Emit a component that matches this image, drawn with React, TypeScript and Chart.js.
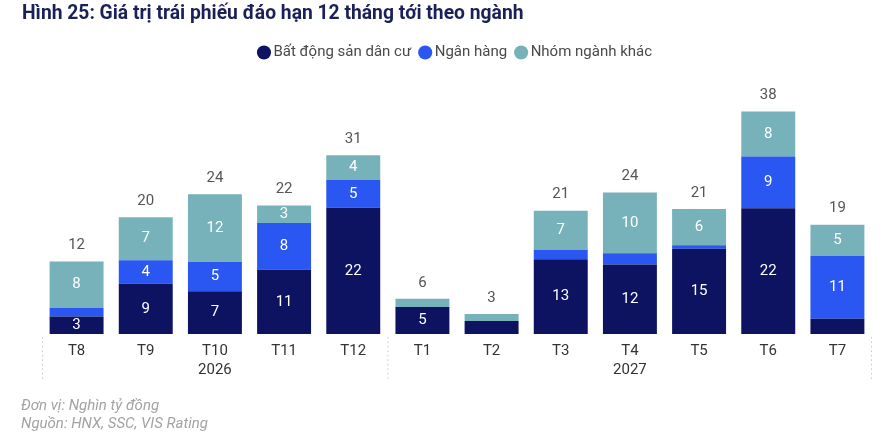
import React, { useEffect, useRef } from "react";
import { Chart, registerables } from "chart.js";

Chart.register(...registerables);

const months = ["T8", "T9", "T10", "T11", "T12", "T1", "T2", "T3", "T4", "T5", "T6", "T7"];
const years = ["", "", "2026", "", "", "", "", "", "2027", "", "", ""];
const residential = [3.0, 8.6, 7.3, 11.0, 21.6, 4.6, 2.2, 12.8, 11.9, 14.6, 21.5, 2.6];
const banks = [1.5, 4.0, 5.0, 8.0, 4.8, 0, 0, 1.6, 1.9, 0.6, 8.9, 10.8];
const others = [7.9, 7.4, 11.6, 3.0, 4.2, 1.4, 1.2, 6.7, 10.4, 6.2, 7.7, 5.3];
const seriesNames = ["Bất động sản dân cư", "Ngân hàng", "Nhóm ngành khác"];
const seriesColors = ["#0d1261", "#2a56f1", "#77b2ba"];
const yearBreakAfter = 4;

const FONT = "Roboto";

const valueLabels = {
  id: "valueLabels",
  afterDatasetsDraw(chart: any) {
    const ctx = chart.ctx;
    const area = chart.chartArea;
    ctx.save();
    ctx.font = `15px ${FONT}`;
    ctx.textAlign = "center";
    ctx.textBaseline = "middle";
    chart.data.datasets.forEach((ds: any, di: number) => {
      const meta = chart.getDatasetMeta(di);
      meta.data.forEach((el: any, i: number) => {
        const v = ds.data[i];
        if (v >= 2.8) {
          ctx.fillStyle = "#ffffff";
          ctx.fillText(String(Math.round(v)), el.x, (el.y + el.base) / 2);
        }
      });
    });
    const lastMeta = chart.getDatasetMeta(chart.data.datasets.length - 1);
    lastMeta.data.forEach((el: any, i: number) => {
      let total = 0;
      chart.data.datasets.forEach((ds: any) => (total += ds.data[i]));
      ctx.fillStyle = "#555555";
      ctx.fillText(String(Math.round(total)), el.x, el.y - 16);
    });
    // dotted separators
    const xs = chart.scales.x;
    const mid = (xs.getPixelForTick(yearBreakAfter) + xs.getPixelForTick(yearBreakAfter + 1)) / 2;
    const xsPos = [area.left + 0.5, mid, area.right - 0.5];
    ctx.strokeStyle = "#c9c9c9";
    ctx.lineWidth = 1;
    ctx.setLineDash([1.5, 3]);
    xsPos.forEach((x) => {
      ctx.beginPath();
      ctx.moveTo(x, area.bottom + 3);
      ctx.lineTo(x, area.bottom + 47);
      ctx.stroke();
    });
    ctx.restore();
  },
};

export default function App() {
  const ref = useRef<HTMLCanvasElement>(null);
  useEffect(() => {
    if (!ref.current) return;
    Chart.defaults.font.family = FONT;
    const chart = new Chart(ref.current, {
      type: "bar",
      data: {
        labels: months.map((m, i) => [m, years[i]]),
        datasets: [residential, banks, others].map((d, i) => ({
          label: seriesNames[i],
          data: d,
          backgroundColor: seriesColors[i],
          borderWidth: 0,
          categoryPercentage: 0.78,
          barPercentage: 1,
        })),
      },
      options: {
        responsive: false,
        animation: false,
        devicePixelRatio: 1,
        layout: { padding: { top: 33, left: 42, right: 11, bottom: 62 } },
        plugins: {
          legend: {
            position: "top",
            align: "center",
            labels: {
              usePointStyle: true,
              pointStyle: "circle",
              boxWidth: 4,
              boxHeight: 10,
              padding: 12,
              color: "#4a4a4a",
              font: { size: 15, family: FONT },
            },
          },
          tooltip: { enabled: false },
        },
        scales: {
          x: {
            stacked: true,
            grid: { display: false },
            border: { display: false },
            ticks: {
              color: "#333333",
              font: { size: 15, family: FONT, lineHeight: 1.27 },
              padding: 0,
              maxRotation: 0,
              autoSkip: false,
            },
          },
          y: {
            stacked: true,
            display: false,
            min: 0,
            max: 45.2,
          },
        },
      },
      plugins: [valueLabels],
    });
    return () => chart.destroy();
  }, []);

  return (
    <div
      style={{
        position: "absolute",
        left: 0,
        top: 0,
        width: 883,
        height: 442,
        background: "#ffffff",
        fontFamily: FONT,
        overflow: "hidden",
      }}
    >
      <canvas ref={ref} width={883} height={442} style={{ position: "absolute", left: 0, top: 0 }} />
      <div
        style={{
          position: "absolute",
          left: 22,
          top: 2,
          fontSize: 19.3,
          lineHeight: "22px",
          fontWeight: 700,
          color: "#1b2058",
          whiteSpace: "nowrap",
        }}
      >
        Hình 25: Giá trị trái phiếu đáo hạn 12 tháng tới theo ngành
      </div>
      <div
        style={{
          position: "absolute",
          left: 21,
          top: 397,
          fontSize: 15,
          lineHeight: "17.6px",
          fontStyle: "italic",
          color: "#a3a3a3",
          whiteSpace: "nowrap",
        }}
      >
        <div>Đơn vị: Nghìn tỷ đồng</div>
        <div>Nguồn: HNX, SSC, VIS Rating</div>
      </div>
    </div>
  );
}
